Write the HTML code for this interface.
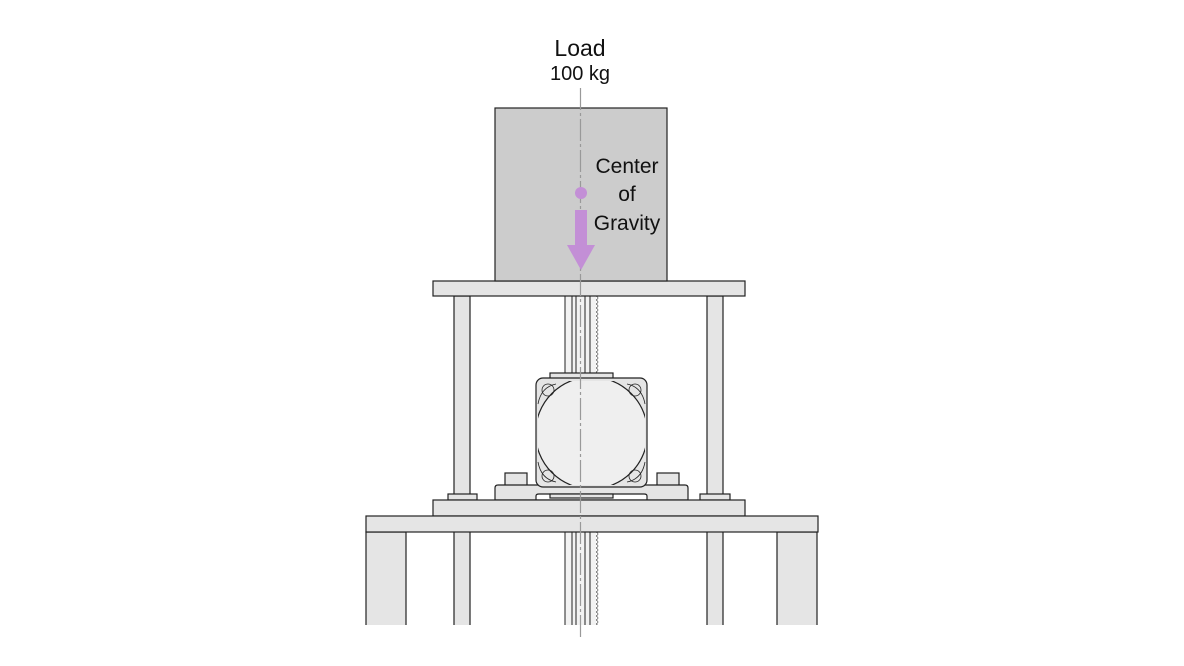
<!DOCTYPE html>
<html><head><meta charset="utf-8"><style>
html,body{margin:0;padding:0;background:#fff}
svg{display:block}
text{font-family:"Liberation Sans Narrow","Liberation Sans",sans-serif;fill:#111}
</style></head><body>
<svg width="1184" height="666" viewBox="0 0 1184 666" xmlns="http://www.w3.org/2000/svg">
<defs>
<clipPath id="mc"><rect x="538" y="381" width="107" height="104"/></clipPath>
<pattern id="rack" x="0" y="0" width="4" height="4" patternUnits="userSpaceOnUse">
<path d="M0,0 Q4,2 0,4" fill="none" stroke="#666" stroke-width="0.8"/>
</pattern>
</defs>
<g stroke="#222" stroke-width="1.2">
<path d="M366,625 V532 H406 V625" fill="#e5e5e5"/>
<path d="M777,625 V532 H817 V625" fill="#e5e5e5"/>
<path d="M454,625 V296 H470 V625" fill="#e5e5e5"/>
<path d="M707,625 V296 H723 V625" fill="#e5e5e5"/>
<rect x="565" y="296" width="31" height="329" fill="#f2f2f2" stroke="none"/>
<g stroke-width="1">
<line x1="565" y1="296" x2="565" y2="625"/>
<line x1="572" y1="296" x2="572" y2="625"/>
<line x1="576" y1="296" x2="576" y2="625"/>
<line x1="585" y1="296" x2="585" y2="625"/>
<line x1="590" y1="296" x2="590" y2="625"/>
</g>
<rect x="596" y="296" width="4" height="329" fill="url(#rack)" stroke="none"/>
<rect x="448" y="494" width="29" height="6" fill="#e5e5e5"/>
<rect x="700" y="494" width="30" height="6" fill="#e5e5e5"/>
<rect x="505" y="473" width="22" height="13" fill="#e5e5e5"/>
<rect x="657" y="473" width="22" height="13" fill="#e5e5e5"/>
<path d="M495,500 V488 Q495,485 498,485 H685 Q688,485 688,488 V500 Z" fill="#e5e5e5"/>
<path d="M536,500 V496 Q536,494 539,494 H644 Q647,494 647,496 V500 Z" fill="#fff"/>
<rect x="550" y="494" width="63" height="4" fill="#e5e5e5"/>
<rect x="550" y="373" width="63" height="6" fill="#e5e5e5"/>
<rect x="536" y="378" width="111" height="109" rx="7" fill="#e5e5e5"/>
<circle cx="591.5" cy="433" r="56" fill="#efefef" clip-path="url(#mc)"/>
<g fill="none" stroke-width="0.8">
<circle cx="548" cy="390" r="6"/><circle cx="635" cy="390" r="6"/>
<circle cx="548" cy="476" r="6"/><circle cx="635" cy="476" r="6"/>
<path d="M538,404 Q541,387 556,384"/><path d="M645,404 Q642,387 627,384"/>
<path d="M538,462 Q541,479 556,482"/><path d="M645,462 Q642,479 627,482"/>
</g>
<rect x="433" y="500" width="312" height="16" fill="#e5e5e5"/>
<rect x="366" y="516" width="452" height="16" fill="#e5e5e5"/>
<rect x="433" y="281" width="312" height="15" fill="#e5e5e5"/>
<rect x="495" y="108" width="172" height="173" fill="#cccccc"/>
</g>
<line x1="580.5" y1="88" x2="580.5" y2="640" stroke="#999" stroke-width="1.2" stroke-dasharray="22,3,3,3"/>
<circle cx="581" cy="193" r="6" fill="#c38fd6"/>
<rect x="575" y="210" width="12" height="36" fill="#c38fd6"/>
<polygon points="567,245 595,245 581,270" fill="#c38fd6"/>
<text x="580" y="56" font-size="23" text-anchor="middle">Load</text>
<text x="580" y="80" font-size="20" text-anchor="middle">100 kg</text>
<text x="627" y="173" font-size="21" text-anchor="middle">Center</text>
<text x="627" y="201" font-size="21" text-anchor="middle">of</text>
<text x="627" y="230" font-size="21" text-anchor="middle">Gravity</text>
</svg>
</body></html>
